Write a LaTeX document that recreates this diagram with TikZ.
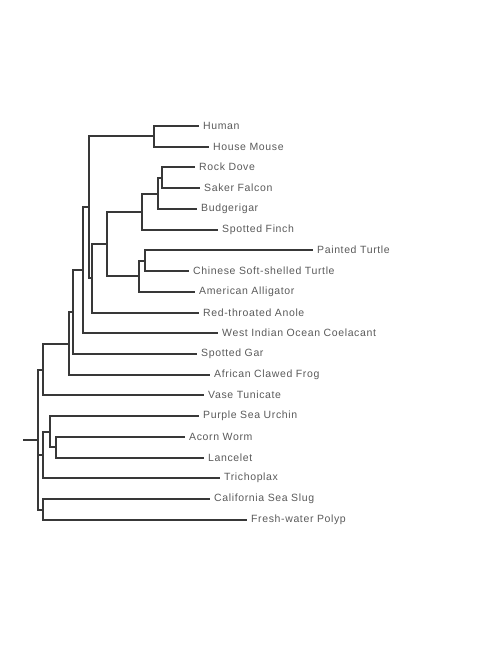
\documentclass[tikz,border=0pt]{standalone}
\usepackage{fontspec}
\newfontfamily\treefont[LetterSpace=6]{Liberation Sans}
\usepackage{tikz}
\usetikzlibrary{positioning}
\definecolor{branchgray}{HTML}{383838}
\definecolor{labelgray}{HTML}{5A5A5A}
\tikzset{leaf/.style = {anchor = west, inner xsep = 4pt, inner ysep = 1pt, text = labelgray, font = \treefont\fontsize{10.5}{12}\selectfont}}
\tikzset{branch/.style = {draw = branchgray, line width = 2pt}}

\begin{document}
\begin{tikzpicture}[x=1pt, y=-1pt]
    \useasboundingbox (0,0) rectangle (500,647);
    % leaves, at the ends of their branches
    \node[leaf] (human) at (199,126) {Human};
    \node[leaf] (mouse) at (209,147) {House Mouse};
    \node[leaf] (dove) at (195,167) {Rock Dove};
    \node[leaf] (falcon) at (200,188) {Saker Falcon};
    \node[leaf] (budgie) at (197,209) {Budgerigar};
    \node[leaf] (finch) at (218,230) {Spotted Finch};
    \node[leaf] (pturtle) at (313,250) {Painted Turtle};
    \node[leaf] (sturtle) at (189,271) {Chinese Soft-shelled Turtle};
    \node[leaf] (gator) at (195,292) {American Alligator};
    \node[leaf] (anole) at (199,313) {Red-throated Anole};
    \node[leaf] (coela) at (218,333) {West Indian Ocean Coelacant};
    \node[leaf] (gar) at (197,354) {Spotted Gar};
    \node[leaf] (frog) at (210,375) {African Clawed Frog};
    \node[leaf] (tunicate) at (204,395) {Vase Tunicate};
    \node[leaf] (urchin) at (199,416) {Purple Sea Urchin};
    \node[leaf] (worm) at (185,437) {Acorn Worm};
    \node[leaf] (lancelet) at (204,458) {Lancelet};
    \node[leaf] (trichoplax) at (220,478) {Trichoplax};
    \node[leaf] (slug) at (210,499) {California Sea Slug};
    \node[leaf] (polyp) at (247,520) {Fresh-water Polyp};
    % internal splits
    \coordinate (n1) at (154,136);
    \coordinate (n2) at (162,178);
    \coordinate (n3) at (158,194);
    \coordinate (n4) at (142,212);
    \coordinate (n5) at (145,261);
    \coordinate (n6) at (139,276);
    \coordinate (n7) at (107,244);
    \coordinate (n8) at (92,278);
    \coordinate (n9) at (89,207);
    \coordinate (n10) at (83,270);
    \coordinate (n11) at (73,312);
    \coordinate (n12) at (69,344);
    \coordinate (n13) at (43,370);
    \coordinate (n14) at (56,447);
    \coordinate (n15) at (50,432);
    \coordinate (n16) at (43,455);
    \coordinate (n17) at (43,510);
    \coordinate (root) at (38,440);
    \coordinate (stub) at (23,440);
    \draw[branch] (stub) -- (root);
    \foreach \p/\c in {n1/human, n1/mouse, n2/dove, n2/falcon, n3/budgie, n4/finch,
        n5/pturtle, n5/sturtle, n6/gator, n8/anole, n10/coela, n11/gar, n12/frog,
        n13/tunicate, n14/worm, n14/lancelet, n15/urchin, n16/trichoplax,
        n17/slug, n17/polyp} {
        \draw[branch] (\p) |- (\c.west); % to a leaf
    }
    \foreach \p/\c in {n3/n2, n4/n3, n6/n5, n7/n4, n7/n6, n8/n7, n9/n1, n9/n8,
        n10/n9, n11/n10, n12/n11, n13/n12, n15/n14, n16/n15,
        root/n13, root/n16, root/n17} {
        \draw[branch] (\p) |- (\c);
    }
\end{tikzpicture}
\end{document}
